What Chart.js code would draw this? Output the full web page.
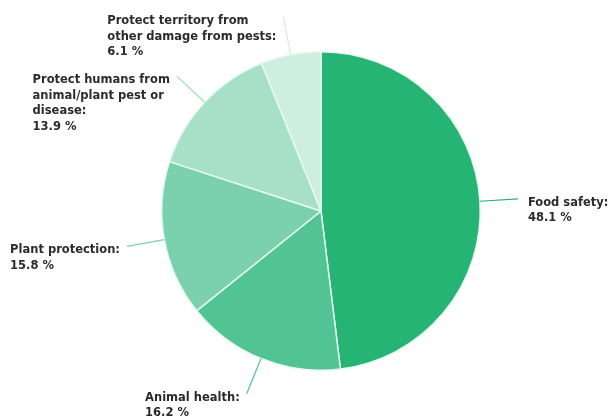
<!DOCTYPE html>
<html>
<head>
<meta charset="utf-8">
<script src="https://cdn.jsdelivr.net/npm/chart.js@4"></script>
<style>
  html, body { margin: 0; padding: 0; background: #fff; }
  #wrap { width: 614px; height: 418px; }
</style>
</head>
<body>
<div id="wrap"><canvas id="chart"></canvas></div>
<script>
// categories (already split into lines the way the labels wrap)
const categories = [
    ["Food safety:"],
    ["Animal health:"],
    ["Plant protection:"],
    ["Protect humans from", "animal/plant pest or", "disease:"],
    ["Protect territory from", "other damage from pests:"]
];
const shares = [48.1, 16.2, 15.8, 13.9, 6.1];
const sliceColors = ["#26b475", "#52c494", "#7bd1ad", "#a7dfc7", "#cdeee1"];

const labelFont = "bold 11.5px 'DejaVu Sans', Verdana, sans-serif";
const lineHeight = 15.5;

// draws outside labels with connector lines, like the original
const pieLabels = {
    id: "pieLabels",
    afterDatasetsDraw(chart) {
        const ctx = chart.ctx;
        const meta = chart.getDatasetMeta(0);
        ctx.save();
        ctx.font = labelFont;
        ctx.textBaseline = "middle";
        meta.data.forEach(function (arc, i) {
            const mid = (arc.startAngle + arc.endAngle) / 2;
            const r = arc.outerRadius;
            const sx = arc.x + Math.cos(mid) * r;
            const sy = arc.y + Math.sin(mid) * r;
            const ex = arc.x + Math.cos(mid) * (r + 38);
            const ey = arc.y + Math.sin(mid) * (r + 38);
            const right = Math.cos(mid) >= 0;

            ctx.strokeStyle = sliceColors[i];
            ctx.lineWidth = 1.2;
            ctx.beginPath();
            ctx.moveTo(sx, sy);
            ctx.quadraticCurveTo(arc.x + Math.cos(mid) * (r + 25), arc.y + Math.sin(mid) * (r + 25), ex, ey);
            ctx.stroke();

            const lines = categories[i].concat([shares[i].toFixed(1) + " %"]);
            let w = 0;
            lines.forEach(function (l) { w = Math.max(w, ctx.measureText(l).width); });
            const tx = right ? ex + 10 : ex - 7 - w;
            ctx.fillStyle = "#2b2b2b";
            lines.forEach(function (l, k) {
                ctx.fillText(l, tx, ey + 4 + k * lineHeight);
            });
        });
        ctx.restore();
    }
};

new Chart(document.getElementById("chart"), {
    type: "pie",
    data: {
        labels: categories,
        datasets: [{
            data: shares,
            backgroundColor: sliceColors,
            borderColor: "#e6f9f0",
            borderWidth: 1.5
        }]
    },
    options: {
        responsive: true,
        maintainAspectRatio: false,
        animation: false,
        layout: { padding: { left: 161, right: 133, top: 51, bottom: 47 } },
        plugins: {
            legend: { display: false },
            tooltip: { enabled: false }
        }
    },
    plugins: [pieLabels]
});
</script>
</body>
</html>
